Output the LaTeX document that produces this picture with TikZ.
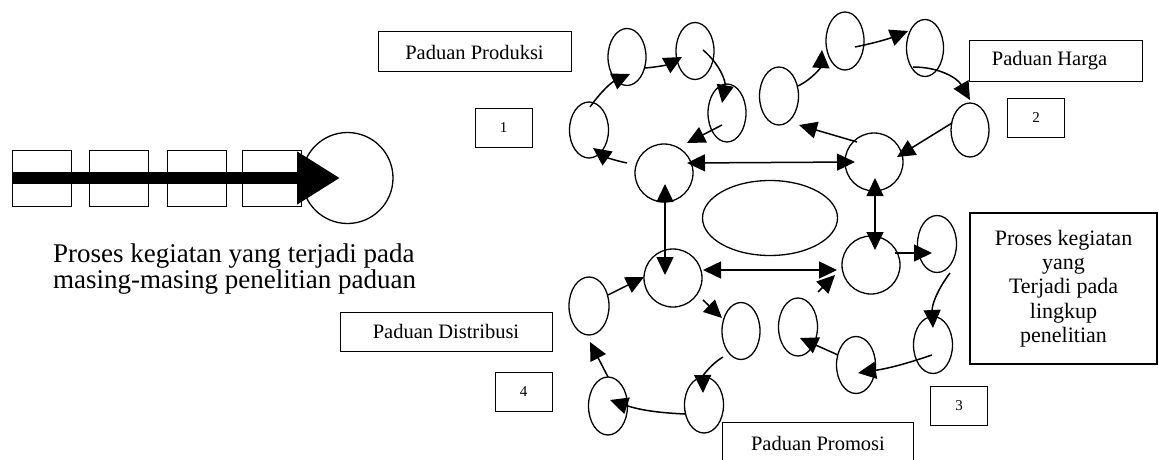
\documentclass[tikz,border=0pt]{standalone}
\usepackage{fontspec}
\setmainfont{Liberation Serif}
\usetikzlibrary{arrows.meta,shapes.geometric}
\begin{document}
\begin{tikzpicture}[x=1pt,y=-1pt,
  ell/.style={draw,ellipse,line width=1.3pt,inner sep=0pt},
  hub/.style={draw,circle,line width=1.3pt,inner sep=0pt,minimum size=58pt},
  lbl/.style={draw,line width=1pt,inner sep=0pt,font=\fontsize{20.5}{22}\selectfont},
  num/.style={draw,line width=1pt,inner sep=0pt,minimum width=57pt,minimum height=39pt,font=\fontsize{15}{16}\selectfont},
  conn/.style={line width=1.5pt,-{Triangle[length=18pt,width=17pt]}},
  dconn/.style={line width=1.5pt,{Triangle[length=18pt,width=17pt]}-{Triangle[length=18pt,width=17pt]}},
  sqbox/.style={draw,line width=1pt,inner sep=0pt,minimum width=59pt,minimum height=56pt},
]
\useasboundingbox (0,0) rectangle (1159,460);

% ---------- left part ----------
\node[sqbox] (R1) at (41.5,178) {};
\node[sqbox] (R2) at (118.5,178) {};
\node[sqbox] (R3) at (196.5,178) {};
\node[sqbox] (R4) at (272,178) {};
\node[draw,circle,line width=1.3pt,inner sep=0pt,minimum size=91pt] (BigC) at (347.5,178) {};
\draw[line width=12pt,-{Triangle[length=43pt,width=50pt]}]
  (R1.west) -- ([shift={(-7.5,0)}]BigC.center);
\node[anchor=north west,align=left,inner sep=0pt,font=\fontsize{27}{23.5}\selectfont] (ltext) at (53,244)
  {Proses kegiatan yang terjadi pada\\masing-masing penelitian paduan};

% ---------- labels ----------
\node[lbl,minimum width=193pt,minimum height=40pt] (prod) at (474.5,52) {Paduan Produksi};
\node[lbl,minimum width=173pt,minimum height=40pt] (harga) at (1055.5,61) {Paduan Harga\hspace*{12pt}};
\node[lbl,minimum width=212pt,minimum height=39pt] (dist) at (446,331.5) {Paduan Distribusi};
\node[inner sep=0pt,minimum width=190pt,minimum height=40pt,font=\fontsize{20.5}{22}\selectfont] (promo) at (818,443) {Paduan Promosi};
\draw[line width=1pt] (promo.south west) -- (promo.north west) -- (promo.north east) -- (promo.south east);
\node[num] (n1) at (503.5,127.5) {1};
\node[num] (n2) at (1036,117.5) {2};
\node[num] (n3) at (959,405.5) {3};
\node[num] (n4) at (523.5,391.5) {4};
\node[draw,line width=1.2pt,minimum width=187pt,minimum height=151pt,inner sep=0pt,align=center,
  font=\fontsize{22}{24.3}\selectfont] (scopebox) at (1063.5,288.5)
  {Proses kegiatan\\yang\\Terjadi pada\\lingkup\\penelitian};

% ---------- centre ----------
\node[ell,minimum width=135pt,minimum height=75pt] (core) at (770,218) {};

% ---------- cycle 1 ----------
\node[ell,minimum width=38pt,minimum height=57pt] (Ea) at (627,57) {};
\node[ell,minimum width=38pt,minimum height=57pt] (Eb) at (695,51) {};
\node[ell,minimum width=38pt,minimum height=58pt] (Ec) at (727,113) {};
\node[ell,minimum width=39pt,minimum height=56pt] (Ed) at (589,130) {};
\node[hub] (C1) at (664,173) {};
% ---------- cycle 2 ----------
\node[ell,minimum width=39pt,minimum height=58pt] (Ee) at (779,96) {};
\node[ell,minimum width=38pt,minimum height=58pt] (Ef) at (845,41) {};
\node[ell,minimum width=37pt,minimum height=57pt] (Eg) at (925,48) {};
\node[ell,minimum width=38pt,minimum height=54pt] (Eh) at (970,130) {};
\node[hub] (C2) at (874,162) {};
% ---------- cycle 3 ----------
\node[hub] (C3) at (871,265) {};
\node[ell,minimum width=39pt,minimum height=57pt] (F1) at (937,244) {};
\node[ell,minimum width=39pt,minimum height=57pt] (F2) at (933,345) {};
\node[ell,minimum width=39pt,minimum height=57pt] (F3) at (856,365) {};
\node[ell,minimum width=39pt,minimum height=58pt] (F4) at (798,327) {};
% ---------- cycle 4 ----------
\node[hub] (C4) at (673,278) {};
\node[ell,minimum width=40pt,minimum height=58pt] (G1) at (589,306) {};
\node[ell,minimum width=38pt,minimum height=57pt] (G2) at (741,331) {};
\node[ell,minimum width=39pt,minimum height=56pt] (G3) at (704,405) {};
\node[ell,minimum width=39pt,minimum height=58pt] (G4) at (608,406) {};

% ---------- cycle 1 arrows ----------
\draw[conn] ([shift={(1,-23)}]Ed.center) to[bend left=15] ([shift={(3,17)}]Ea.center);
\draw[conn] ([shift={(18,11)}]Ea.center) to[bend right=12] ([shift={(-13,6)}]Eb.center);
\draw[conn] ([shift={(8,-1)}]Eb.center) to[bend left=30] ([shift={(-5,-10)}]Ec.center);
\draw[conn] ([shift={(-5,12)}]Ec.center) -- ([shift={(23,-30)}]C1.center);
\draw[conn] ([shift={(-37,-10)}]C1.center) to[bend left=12] ([shift={(4,18)}]Ed.center);
% ---------- cycle 2 arrows ----------
\draw[conn] ([shift={(-17,-20)}]C2.center) -- ([shift={(20,29)}]Ee.center);
\draw[conn] ([shift={(19,-10)}]Ee.center) to[bend right=30] ([shift={(-23,9)}]Ef.center);
\draw[conn] ([shift={(10,6)}]Ef.center) to[bend right=5] ([shift={(-17,-17)}]Eg.center);
\draw[conn] ([shift={(-12,19)}]Eg.center) to[bend left=30] ([shift={(0,-30)}]Eh.center);
\draw[conn] ([shift={(-18,-7)}]Eh.center) -- ([shift={(23,-5)}]C2.center);
% ---------- cycle 3 arrows ----------
\draw[conn] ([shift={(24,-12)}]C3.center) -- ([shift={(-5,9)}]F1.center);
\draw[conn] ([shift={(13,29)}]F1.center) to[bend right=20] ([shift={(0,-17)}]F2.center);
\draw[conn] ([shift={(-1,10)}]F2.center) to[bend left=5] ([shift={(2,8)}]F3.center);
\draw[conn] ([shift={(-18,-10)}]F3.center) -- ([shift={(2,11)}]F4.center);
\draw[conn] ([shift={(20,-35)}]F4.center) -- ([shift={(-36,10)}]C3.center);
% ---------- cycle 4 arrows ----------
\draw[conn] ([shift={(19,-11)}]G1.center) -- ([shift={(-29,-1)}]C4.center);
\draw[conn] ([shift={(30,22)}]C4.center) -- ([shift={(-19,-13)}]G2.center);
\draw[conn] ([shift={(-18,26)}]G2.center) to[bend right=30] ([shift={(-1,-12)}]G3.center);
\draw[conn] ([shift={(-19,9)}]G3.center) to[bend left=8] ([shift={(2,-6)}]G4.center);
\draw[conn] ([shift={(0,-29)}]G4.center) -- ([shift={(1,36)}]G1.center);
% ---------- hub links ----------
\draw[dconn] ([shift={(23,-10)}]C1.center) -- ([shift={(-19,0)}]C2.center);
\draw[dconn] ([shift={(1,11)}]C1.center) -- ([shift={(-8,-3)}]C4.center);
\draw[dconn] ([shift={(1,16)}]C2.center) -- ([shift={(4,-15)}]C3.center);
\draw[dconn] ([shift={(30,-8)}]C4.center) -- ([shift={(-34,5)}]C3.center);
\end{tikzpicture}
\end{document}
